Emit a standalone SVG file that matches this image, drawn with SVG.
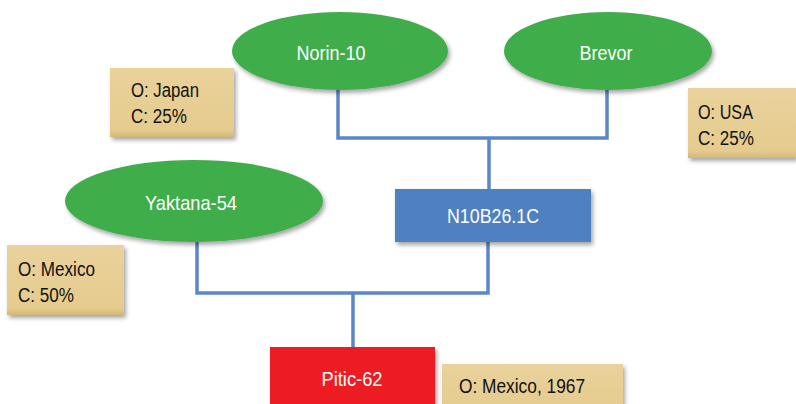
<svg xmlns="http://www.w3.org/2000/svg" width="796" height="404" viewBox="0 0 796 404">
<defs>
<filter id="sh" x="-20%" y="-20%" width="140%" height="150%">
<feDropShadow dx="2" dy="3" stdDeviation="2" flood-color="#000" flood-opacity="0.35"/>
</filter>
<linearGradient id="beige" x1="0" y1="0" x2="0" y2="1">
<stop offset="0" stop-color="#e9d29c"/>
<stop offset="0.9" stop-color="#e5cb8e"/>
<stop offset="1" stop-color="#d4b877"/>
</linearGradient>
</defs>
<style>
.lbl{font-family:"Liberation Sans",Arial,sans-serif;font-size:21px;fill:#fff;text-anchor:middle}
.note{font-family:"Liberation Sans",Arial,sans-serif;font-size:19.5px;fill:#111}
.ell{fill:#40ad4b;filter:url(#sh)}
.box{fill:url(#beige);filter:url(#sh)}
.conn{fill:none;stroke:#5b87c6;stroke-width:3.5}
</style>
<rect width="796" height="404" fill="#fff"/>
<g id="connectors">
<polyline class="conn" points="338,88 338,138 607,138 607,88"/>
<line class="conn" x1="489" y1="138" x2="489" y2="190"/>
<polyline class="conn" points="197,240 197,293 488,293 488,240"/>
<line class="conn" x1="353" y1="293" x2="353" y2="348"/>
</g>
<g id="norin10">
<ellipse class="ell" cx="340" cy="51" rx="108" ry="39"/>
<text class="lbl" x="331" y="60" textLength="69" lengthAdjust="spacingAndGlyphs">Norin-10</text>
</g>
<g id="brevor">
<ellipse class="ell" cx="608" cy="51" rx="104" ry="39"/>
<text class="lbl" x="606" y="60" textLength="53" lengthAdjust="spacingAndGlyphs">Brevor</text>
</g>
<g id="yaktana54">
<ellipse class="ell" cx="194" cy="201" rx="129" ry="41"/>
<text class="lbl" x="191" y="210" textLength="92" lengthAdjust="spacingAndGlyphs">Yaktana-54</text>
</g>
<g id="n10b26">
<rect x="395" y="189" width="196" height="53" fill="#4f80c0" filter="url(#sh)"/>
<text class="lbl" x="493" y="223" textLength="92" lengthAdjust="spacingAndGlyphs">N10B26.1C</text>
</g>
<g id="pitic62">
<rect x="270" y="347" width="165" height="62" fill="#ed1c24" filter="url(#sh)"/>
<text class="lbl" x="352" y="386" textLength="61" lengthAdjust="spacingAndGlyphs">Pitic-62</text>
</g>
<g id="note-japan">
<rect class="box" x="110" y="68" width="124" height="69"/>
<text class="note" x="131" y="97" textLength="68" lengthAdjust="spacingAndGlyphs">O: Japan</text>
<text class="note" x="131" y="123" textLength="56" lengthAdjust="spacingAndGlyphs">C: 25%</text>
</g>
<g id="note-usa">
<rect class="box" x="688" y="88" width="108" height="70"/>
<text class="note" x="698" y="119" textLength="55" lengthAdjust="spacingAndGlyphs">O: USA</text>
<text class="note" x="698" y="145" textLength="56" lengthAdjust="spacingAndGlyphs">C: 25%</text>
</g>
<g id="note-mexico">
<rect class="box" x="7" y="245" width="117" height="70"/>
<text class="note" x="18" y="276" textLength="77" lengthAdjust="spacingAndGlyphs">O: Mexico</text>
<text class="note" x="18" y="302" textLength="56" lengthAdjust="spacingAndGlyphs">C: 50%</text>
</g>
<g id="note-pitic">
<rect class="box" x="442" y="364" width="181" height="50"/>
<text class="note" x="459" y="393" textLength="126" lengthAdjust="spacingAndGlyphs">O: Mexico, 1967</text>
</g>
</svg>
